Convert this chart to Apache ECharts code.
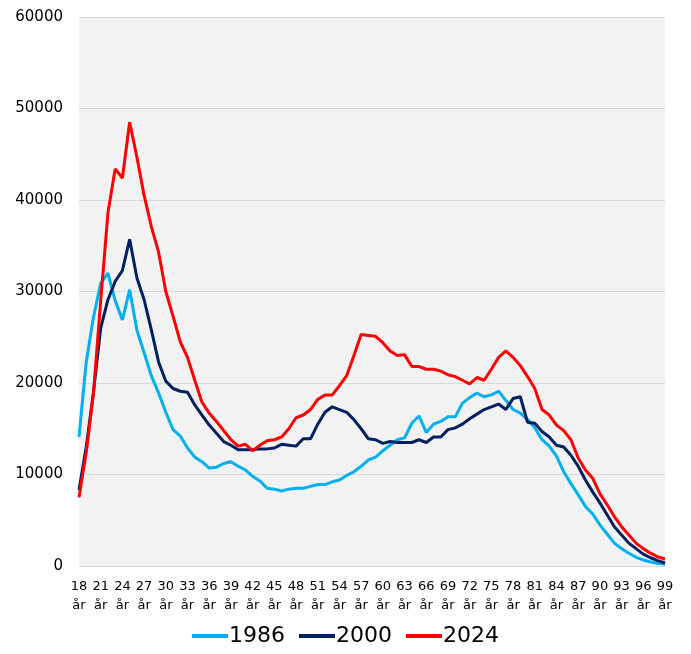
<!DOCTYPE html>
<html>
<head>
<meta charset="utf-8">
<script src="https://cdn.jsdelivr.net/npm/echarts@6/dist/echarts.min.js"></script>
<style>
html, body { margin: 0; padding: 0; background: #fff; }
#chart { width: 691px; height: 654px; }
</style>
</head>
<body>
<div id="chart"></div>
<script>
// ages 18..99
var ages = [];
for (var a = 18; a <= 99; a++) ages.push(a + '\når');

var y1986 = [14100, 22300, 27200, 30900, 32000, 29000, 26900, 30200, 25800, 23300,
	20800, 18900, 16800, 14900, 14200, 12900, 11900, 11400, 10700, 10800,
	11200, 11400, 10900, 10500, 9800, 9300, 8500, 8400, 8200, 8400,
	8500, 8500, 8700, 8900, 8900, 9200, 9400, 9900, 10300, 10900,
	11600, 11900, 12600, 13200, 13800, 14000, 15600, 16400, 14600, 15500,
	15800, 16300, 16300, 17800, 18400, 18900, 18500, 18700, 19100, 18100,
	17100, 16700, 16000, 15100, 13800, 13100, 12000, 10300, 9000, 7800,
	6500, 5700, 4500, 3500, 2500, 1900, 1400, 950, 660, 440,
	300, 190];

var y2000 = [8300, 13000, 19000, 26000, 29100, 31100, 32300, 35700, 31500, 29100,
	25800, 22300, 20200, 19400, 19100, 19000, 17600, 16500, 15400, 14500,
	13600, 13200, 12700, 12700, 12700, 12800, 12800, 12900, 13300, 13200,
	13100, 13900, 13900, 15500, 16800, 17400, 17100, 16800, 16000, 15000,
	13900, 13800, 13400, 13600, 13500, 13500, 13500, 13800, 13500, 14100,
	14100, 14900, 15100, 15500, 16100, 16600, 17100, 17400, 17700, 17100,
	18300, 18500, 15700, 15600, 14700, 14100, 13200, 13000, 12100, 10900,
	9400, 8100, 6900, 5600, 4300, 3400, 2500, 1900, 1300, 900,
	580, 330];

var y2024 = [7500, 12400, 18900, 29000, 38600, 43400, 42400, 48500, 44700, 40500,
	37100, 34300, 30000, 27300, 24500, 22800, 20300, 17900, 16700, 15800,
	14800, 13800, 13100, 13300, 12600, 13200, 13700, 13800, 14100, 15000,
	16200, 16500, 17100, 18200, 18700, 18700, 19700, 20800, 23000, 25300,
	25200, 25100, 24400, 23500, 23000, 23100, 21800, 21800, 21500, 21500,
	21300, 20900, 20700, 20300, 19900, 20600, 20300, 21500, 22800, 23500,
	22800, 21900, 20700, 19400, 17100, 16500, 15400, 14800, 13800, 11800,
	10500, 9600, 7900, 6700, 5400, 4300, 3400, 2500, 1900, 1400,
	1000, 770];

var myChart = echarts.init(document.getElementById('chart'));
var font = 'DejaVu Sans';

function line(name, data, color) {
	return {
		name: name,
		type: 'line',
		data: data,
		symbol: 'none',
		lineStyle: { width: 3, color: color },
		itemStyle: { color: color }
	};
}

var option = {
	animation: false,
	grid: {
		left: 79, right: 26, top: 17, bottom: 88,
		show: true, backgroundColor: '#f2f2f2', borderWidth: 0
	},
	legend: {
		bottom: 2,
		left: 'center',
		icon: 'rect',
		itemWidth: 36,
		itemHeight: 4,
		itemGap: 14,
		textStyle: { fontFamily: font, fontSize: 22, color: '#000', padding: [0, 0, 0, -4] },
		data: ['1986', '2000', '2024']
	},
	xAxis: {
		type: 'category',
		boundaryGap: false,
		data: ages,
		axisLine: { show: false },
		axisTick: { show: false },
		axisLabel: {
			interval: 2,
			margin: 11,
			fontFamily: font,
			fontSize: 13,
			lineHeight: 19,
			color: '#000'
		}
	},
	yAxis: {
		type: 'value',
		min: 0,
		max: 60000,
		interval: 10000,
		axisLine: { show: false },
		axisTick: { show: false },
		splitLine: { lineStyle: { color: '#d9d9d9', width: 1 } },
		axisLabel: {
			fontFamily: font, fontSize: 15, color: '#000', margin: 16,
			formatter: function(v) { return String(v); }
		}
	},
	series: [
		line('1986', y1986, '#00b0f0'),
		line('2000', y2000, '#002060'),
		line('2024', y2024, '#ff0000')
	]
};
myChart.setOption(option);
</script>
</body>
</html>
